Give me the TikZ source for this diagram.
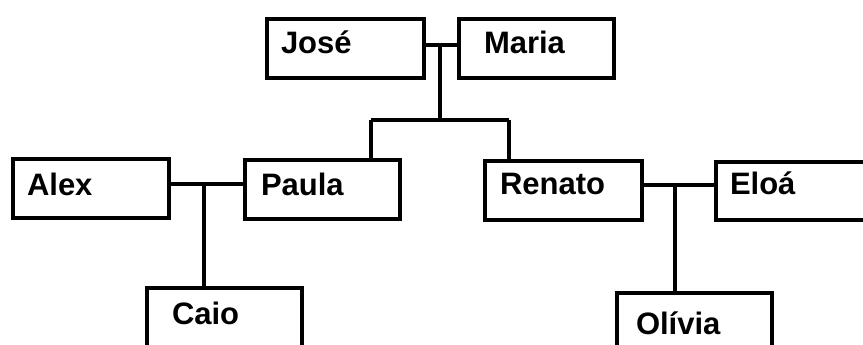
\documentclass[tikz,border=0pt]{standalone}
\usepackage{fontspec}
\setmainfont{Liberation Sans}
\begin{document}
\begin{tikzpicture}[x=1pt,y=-1pt,
  pbox/.style={draw, line width=4pt, rectangle, anchor=north west, inner sep=0pt,
    align=left, font=\fontsize{31}{31}\selectfont\bfseries},
  link/.style={line width=4pt}]
\useasboundingbox (0,0) rectangle (863,345);
\clip (0,0) rectangle (863,345);
% people
\node[pbox, text width=157pt, text height=35pt, text depth=24pt] (jose)   at (265,17)  {\hspace*{14pt}José};
\node[pbox, text width=155pt, text height=35pt, text depth=24pt] (maria)  at (457,17)  {\hspace*{25pt}Maria};
\node[pbox, text width=156pt, text height=36pt, text depth=23pt] (alex)   at (11,157)  {\hspace*{14pt}Alex};
\node[pbox, text width=155pt, text height=35pt, text depth=24pt] (paula)  at (243,158) {\hspace*{16pt}Paula};
\node[pbox, text width=157pt, text height=33pt, text depth=26pt] (renato) at (483,159) {\hspace*{15pt}Renato};
\node[pbox, text width=160pt, text height=32pt, text depth=26pt] (eloa)   at (714,160) {\hspace*{14pt}Eloá};
\node[pbox, text width=155pt, text height=36pt, text depth=28pt] (caio)   at (145,286) {\hspace*{25pt}Caio};
\node[pbox, text width=155pt, text height=41pt, text depth=18pt] (olivia) at (615,291) {\hspace*{19pt}Olívia};
% junction points
\coordinate (m1) at (440,45);
\coordinate (k1) at (440,120);
\coordinate (kp) at (371,120);
\coordinate (kr) at (509,120);
\coordinate (m2) at (204,184);
\coordinate (m3) at (675,185);
% connectors
\draw[link] (jose.east |- m1) -- (maria.west |- m1);
\draw[link] (m1) -- (k1);
\draw[link] (kp) -- (kr);
\draw[link] (kp) -- (kp |- paula.north);
\draw[link] (kr) -- (kr |- renato.north);
\draw[link] (alex.east |- m2) -- (paula.west |- m2);
\draw[link] (m2) -- (m2 |- caio.north);
\draw[link] (renato.east |- m3) -- (eloa.west |- m3);
\draw[link] (m3) -- (m3 |- olivia.north);
\end{tikzpicture}
\end{document}
